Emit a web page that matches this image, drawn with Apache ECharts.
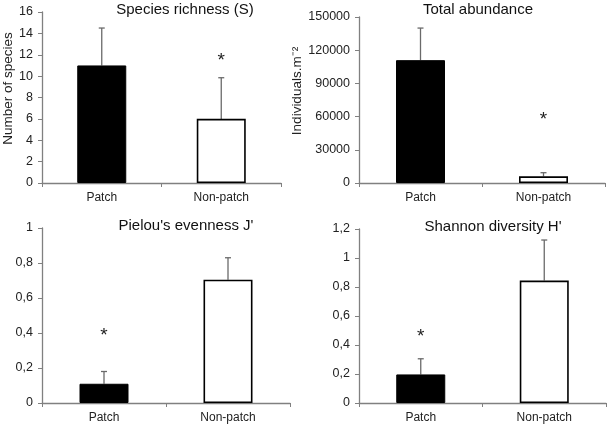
<!DOCTYPE html>
<html>
<head>
<meta charset="utf-8">
<script src="https://cdn.jsdelivr.net/npm/echarts@6/dist/echarts.min.js"></script>
<style>
html,body{margin:0;padding:0;background:#fff;}
#c{width:609px;height:427px;}
</style>
</head>
<body>
<div id="c"></div>
<script>
var categories = ['Patch', 'Non-patch'];

var richness = [11, 6];
var richnessErr = [3.5, 3.85];
var richnessStar = [null, 11.7];

var abundance = [111000, 6000];
var abundanceErr = [29000, 3300];
var abundanceStar = [null, 59600];

var evenness = [0.11, 0.705];
var evennessErr = [0.07, 0.125];
var evennessStar = [0.4, null];

var shannon = [0.197, 0.844];
var shannonErr = [0.108, 0.28];
var shannonStar = [0.48, null];

var titles = ['Species richness (S)', 'Total abundance', "Pielou's evenness J'", "Shannon diversity H'"];
var yNames = ['Number of species', 'Individuals.m\u207B\u00B2', '', ''];

var FONT = '"Liberation Sans", Arial, sans-serif';

var panels = [
  {vals: richness, err: richnessErr, star: richnessStar, min: 0, max: 16, interval: 2, comma: false},
  {vals: abundance, err: abundanceErr, star: abundanceStar, min: 0, max: 150000, interval: 30000, comma: false},
  {vals: evenness, err: evennessErr, star: evennessStar, min: 0, max: 1, interval: 0.2, comma: true},
  {vals: shannon, err: shannonErr, star: shannonStar, min: 0, max: 1.2, interval: 0.2, comma: true}
];

var grids = [
  {left: 42, right: 328, top: 12, bottom: 244},
  {left: 359, right: 4, top: 17, bottom: 244},
  {left: 42, right: 319, top: 228, bottom: 24},
  {left: 359, right: 3, top: 229, bottom: 24}
];

var titlePos = [
  {x: 180, y: -3},
  {x: 473, y: -3},
  {x: 181, y: 213},
  {x: 488, y: 214}
];

var option = {
  animation: false,
  backgroundColor: '#ffffff',
  title: titles.map(function (t, i) {
    return {
      text: t, left: titlePos[i].x, top: titlePos[i].y, textAlign: 'center',
      textStyle: {fontFamily: FONT, fontSize: 15, fontWeight: 'normal', color: '#111'}
    };
  }),
  grid: grids,
  xAxis: panels.map(function (p, i) {
    return {
      type: 'category', gridIndex: i, data: categories,
      axisLine: {lineStyle: {color: '#808080', width: 1.3}},
      axisTick: {show: true, length: 4, alignWithLabel: false, lineStyle: {color: '#808080'}},
      axisLabel: {fontFamily: FONT, fontSize: 12, color: '#222', margin: 9}
    };
  }),
  yAxis: panels.map(function (p, i) {
    return {
      type: 'value', gridIndex: i, min: p.min, max: p.max, interval: p.interval,
      name: yNames[i], nameLocation: 'middle', nameGap: i === 1 ? 51 : 27,
      nameTextStyle: {fontFamily: FONT, fontSize: 13.5, color: '#222', padding: [0, 0, 0, 18]},
      splitLine: {show: false},
      axisLine: {show: true, lineStyle: {color: '#808080', width: 1.3}},
      axisTick: {show: true, length: 4, lineStyle: {color: '#808080'}},
      axisLabel: {
        fontFamily: FONT, fontSize: 12.5, color: '#222', margin: 9,
        formatter: function (v) {
          var s = String(Math.round(v * 1000) / 1000);
          return p.comma ? s.replace('.', ',') : s;
        }
      }
    };
  }),
  series: []
};

panels.forEach(function (p, i) {
  option.series.push({
    type: 'bar', xAxisIndex: i, yAxisIndex: i, barWidth: 49,
    data: p.vals.map(function (v, k) {
      return {
        value: v,
        itemStyle: k === 0
          ? {color: '#000000', borderColor: '#000', borderWidth: 1}
          : {color: '#ffffff', borderColor: '#000', borderWidth: 1.6}
      };
    }),
    z: 3
  });
  option.series.push({
    type: 'custom', xAxisIndex: i, yAxisIndex: i, z: 2,
    data: p.vals.map(function (v, k) { return [k, v, v + p.err[k]]; }),
    renderItem: function (params, api) {
      var a = api.coord([api.value(0), api.value(1)]);
      var b = api.coord([api.value(0), api.value(2)]);
      var st = {stroke: '#6a6a6a', lineWidth: 1.3};
      return {
        type: 'group',
        children: [
          {type: 'line', shape: {x1: a[0], y1: a[1], x2: b[0], y2: b[1]}, style: st},
          {type: 'line', shape: {x1: b[0] - 3, y1: b[1], x2: b[0] + 3, y2: b[1]}, style: st}
        ]
      };
    }
  });
  option.series.push({
    type: 'custom', xAxisIndex: i, yAxisIndex: i, z: 4,
    data: p.star.map(function (s, k) { return s == null ? null : [k, s]; }).filter(function (d) { return d; }),
    renderItem: function (params, api) {
      var c = api.coord([api.value(0), api.value(1)]);
      return {
        type: 'text',
        style: {
          text: '*', x: c[0], y: c[1] + 3, textAlign: 'center', textVerticalAlign: 'middle',
          font: '19px ' + FONT, fill: '#222'
        }
      };
    }
  });
});

var chart = echarts.init(document.getElementById('c'), null, {renderer: 'canvas'});
chart.setOption(option);
</script>
</body>
</html>
